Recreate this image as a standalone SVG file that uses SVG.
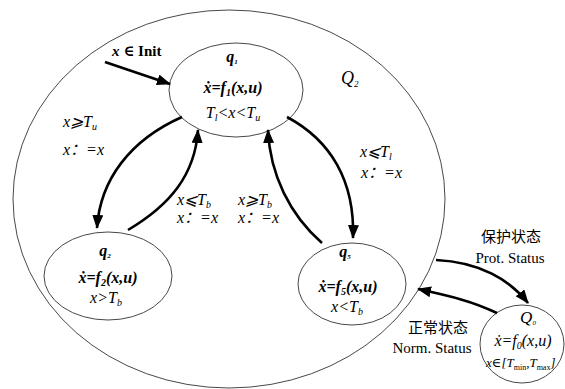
<svg xmlns="http://www.w3.org/2000/svg" width="565" height="389" viewBox="0 0 565 389">
<style>
.st{fill:#fff;stroke:#333;stroke-width:0.9}
.big{fill:none;stroke:#333;stroke-width:0.9}
.e{fill:none;stroke:#000;stroke-width:2.6;marker-end:url(#ah)}
text{font-family:"Liberation Serif","DejaVu Serif","Noto Sans CJK SC",serif;fill:#000}
.i{font-style:italic}
.m{font-size:16px;font-style:italic}
.b{font-weight:bold}
.n{text-anchor:middle}
.cn{font-size:15px}
.en{font-size:15px}
</style>
<defs>
<marker id="ah" markerUnits="userSpaceOnUse" markerWidth="14" markerHeight="12" refX="13" refY="5.5" orient="auto">
<path d="M0,0 L14,5.5 L0,11 z" fill="#000"/>
</marker>
</defs>
<g id="Q2">
<ellipse class="big" cx="229" cy="199" rx="216" ry="189"/>
<text x="341" y="84" class="i" font-size="18">Q<tspan font-size="9" dy="3">2</tspan></text>
</g>
<g id="q1">
<ellipse class="st" cx="236" cy="90" rx="67" ry="47"/>
<text x="232" y="62" class="n m b">q<tspan font-size="7" dy="2">1</tspan></text>
<text x="233" y="93" class="n m b">ẋ=f<tspan font-size="10" dy="3">1</tspan><tspan dy="-3">(x,u)</tspan></text>
<text x="233" y="118" class="n m">T<tspan font-size="10" dy="3">l</tspan><tspan dy="-3">&lt;x&lt;T</tspan><tspan font-size="10" dy="3">u</tspan></text>
</g>
<g id="q2">
<ellipse class="st" cx="108" cy="276" rx="64" ry="44"/>
<text x="105" y="256" class="n m b">q<tspan font-size="7" dy="2">2</tspan></text>
<text x="108" y="283" class="n m b">ẋ=f<tspan font-size="10" dy="3">2</tspan><tspan dy="-3">(x,u)</tspan></text>
<text x="106" y="303" class="n m">x&gt;T<tspan font-size="10" dy="3">b</tspan></text>
</g>
<g id="q5">
<ellipse class="st" cx="352" cy="284" rx="54" ry="41"/>
<text x="345" y="257" class="n m b">q<tspan font-size="7" dy="2">5</tspan></text>
<text x="348" y="292" class="n m b">ẋ=f<tspan font-size="10" dy="3">5</tspan><tspan dy="-3">(x,u)</tspan></text>
<text x="347" y="312" class="n m">x&lt;T<tspan font-size="10" dy="3">b</tspan></text>
</g>
<g id="Q0">
<ellipse class="st" cx="522" cy="344" rx="42" ry="39"/>
<text x="528" y="323" class="n i" font-size="17">Q<tspan font-size="7" dy="2">0</tspan></text>
<text x="523" y="346" class="n m">ẋ=f<tspan font-size="10" dy="3">0</tspan><tspan dy="-3">(x,u)</tspan></text>
<text x="486" y="367" class="i" font-size="13">x∈[T<tspan font-size="8" dy="3" font-style="normal">min</tspan><tspan dy="-3">,T</tspan><tspan font-size="8" dy="3" font-style="normal">max</tspan><tspan dy="-3">]</tspan></text>
</g>
<g id="connectors">
<path class="e" d="M105,62 L170,84"/>
<path class="e" d="M182,117 C130,140 100,180 97,228"/>
<path class="e" d="M128,230 C170,205 195,175 198,130"/>
<path class="e" d="M322,243 C290,215 270,175 268,130"/>
<path class="e" d="M287,117 C330,140 355,180 353,238"/>
<path class="e" d="M436,260 C480,262 510,280 528,303"/>
<path class="e" d="M497,313 C470,300 445,295 418,289"/>
</g>
<g id="labels">
<text x="112" y="56" font-size="15" class="b"><tspan class="i">x</tspan> ∈ Init</text>
<text x="63" y="127" class="m">x⩾T<tspan font-size="10" dy="3">u</tspan></text>
<text x="63" y="155" class="m">x：=x</text>
<text x="177" y="205" class="m">x⩽T<tspan font-size="10" dy="3">b</tspan></text>
<text x="177" y="223" class="m">x：=x</text>
<text x="238" y="205" class="m">x⩾T<tspan font-size="10" dy="3">b</tspan></text>
<text x="238" y="223" class="m">x：=x</text>
<text x="360" y="157" class="m">x⩽T<tspan font-size="10" dy="3">l</tspan></text>
<text x="361" y="178" class="m">x：=x</text>
<text x="511" y="242" class="n cn">保护状态</text>
<text x="510" y="263" class="n en">Prot. Status</text>
<text x="438" y="333" class="n cn">正常状态</text>
<text x="432" y="353" class="n en">Norm. Status</text>
</g>
</svg>
